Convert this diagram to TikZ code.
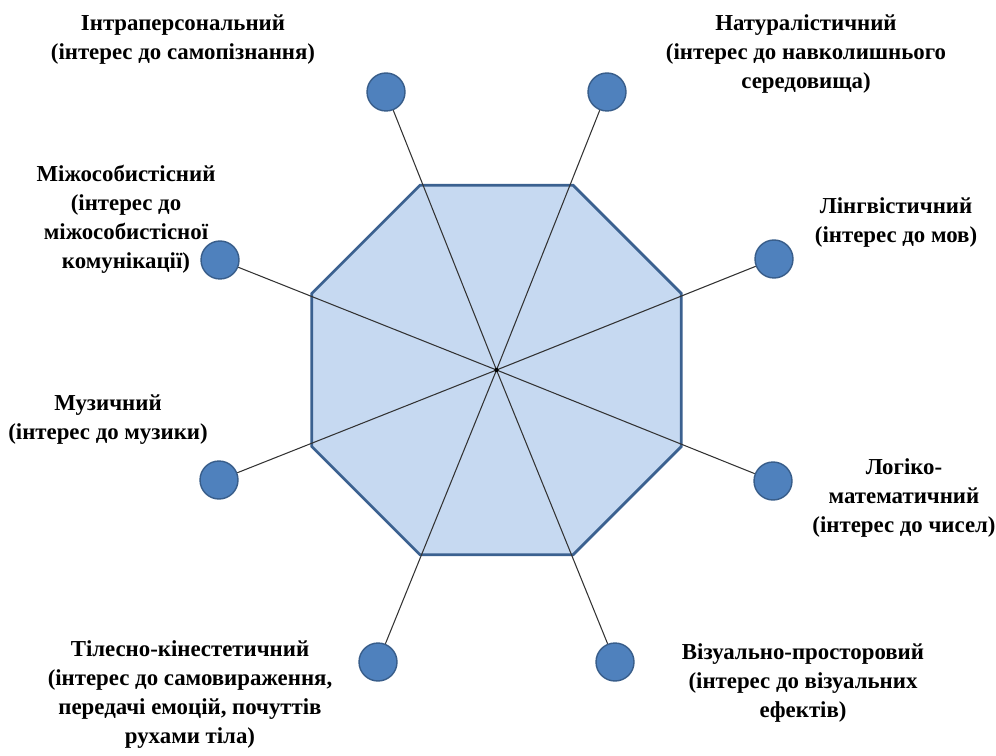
\documentclass[tikz,border=0pt]{standalone}
\usepackage{fontspec}
\setmainfont{Liberation Serif}
\usepackage{tikz}
\usetikzlibrary{positioning, shapes.geometric}
\definecolor{octfill}{RGB}{198,217,241}
\definecolor{octline}{RGB}{59,97,144}
\definecolor{dotfill}{RGB}{79,129,189}
\definecolor{dotline}{RGB}{56,93,138}

\begin{document}
\begin{tikzpicture}[x=0.02cm, y=-0.02cm,
  dot/.style={circle, draw=dotline, fill=dotfill, line width=0.8pt, minimum size=0.76cm, inner sep=0pt},
  ray/.style={draw=black!80, line width=0.6pt},
  lbl/.style={align=center, font=\fontsize{13}{16.5}\selectfont\bfseries}]
  \useasboundingbox (0,0) rectangle (996,756);

  \node[regular polygon, regular polygon sides=8, minimum size=8cm, inner sep=0pt, outer sep=0pt,
        draw=octline, fill=octfill, line width=1.6pt]  (oct)  at (496.5,370)  {};

  \node[dot]  (d1)  at (386,92)   {};
  \node[dot]  (d2)  at (607,92)   {};
  \node[dot]  (d3)  at (774,259)  {};
  \node[dot]  (d4)  at (773,481)  {};
  \node[dot]  (d5)  at (615,662)  {};
  \node[dot]  (d6)  at (378,662)  {};
  \node[dot]  (d7)  at (219,480)  {};
  \node[dot]  (d8)  at (220,260)  {};

  \draw[ray] (oct.center) -- (d1);
  \draw[ray] (oct.center) -- (d2);
  \draw[ray] (oct.center) -- (d3);
  \draw[ray] (oct.center) -- (d4);
  \draw[ray] (oct.center) -- (d5);
  \draw[ray] (oct.center) -- (d6);
  \draw[ray] (oct.center) -- (d7);
  \draw[ray] (oct.center) -- (d8);
  \fill[black] (oct.center) circle (1.2pt);

  \node[lbl]  (t1)  at (183,40)   {Інтраперсональний\\(інтерес до самопізнання)};
  \node[lbl]  (t2)  at (806,54)   {Натуралістичний\\(інтерес до навколишнього\\середовища)};
  \node[lbl]  (t3)  at (896,223)  {Лінгвістичний\\(інтерес до мов)};
  \node[lbl]  (t4)  at (904,498)  {Логіко-\\математичний\\(інтерес до чисел)};
  \node[lbl]  (t5)  at (803,683)  {Візуально-просторовий\\(інтерес до візуальних\\ефектів)};
  \node[lbl]  (t6)  at (190,695)  {Тілесно-кінестетичний\\(інтерес до самовираження,\\передачі емоцій, почуттів\\рухами тіла)};
  \node[lbl]  (t7)  at (108,420)  {Музичний\\(інтерес до музики)};
  \node[lbl]  (t8)  at (126,219)  {Міжособистісний\\(інтерес до\\міжособистісної\\комунікації)};
\end{tikzpicture}
\end{document}
